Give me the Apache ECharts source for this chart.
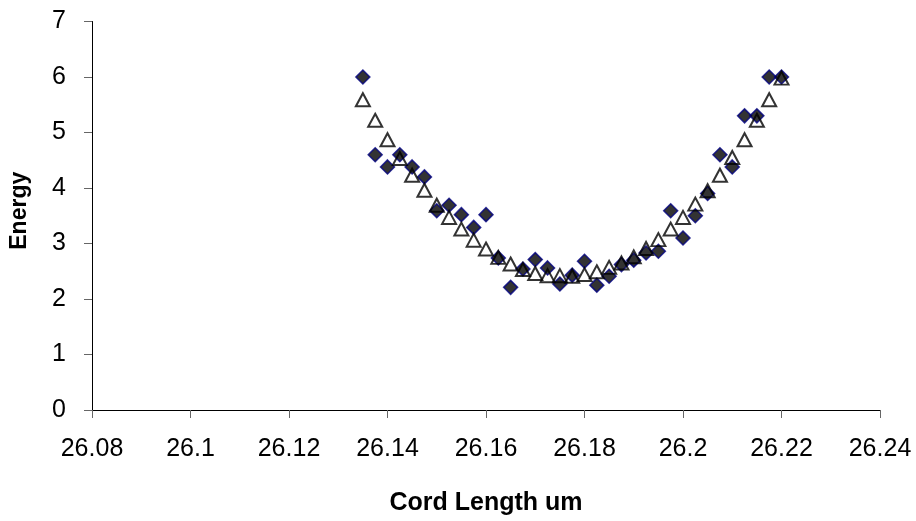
<!DOCTYPE html>
<html>
<head>
<meta charset="utf-8">
<script src="https://cdn.jsdelivr.net/npm/echarts@6/dist/echarts.min.js"></script>
<style>
  html, body { margin: 0; padding: 0; background: #fff; }
  #chart { width: 916px; height: 521px; }
</style>
</head>
<body>
<div id="chart"></div>
<script>
// Cord length positions (um)
const cordLength = [
  26.135, 26.1375, 26.14, 26.1425, 26.145, 26.1475, 26.15, 26.1525, 26.155, 26.1575,
  26.16, 26.1625, 26.165, 26.1675, 26.17, 26.1725, 26.175, 26.1775, 26.18, 26.1825,
  26.185, 26.1875, 26.19, 26.1925, 26.195, 26.1975, 26.2, 26.2025, 26.205, 26.2075,
  26.21, 26.2125, 26.215, 26.2175, 26.22
];

// Measured energy (filled diamonds)
const energyMeasured = [
  6.0, 4.6, 4.38, 4.6, 4.38, 4.2, 3.59, 3.69, 3.52, 3.29,
  3.52, 2.74, 2.21, 2.54, 2.71, 2.56, 2.27, 2.43, 2.68, 2.25,
  2.41, 2.62, 2.70, 2.83, 2.86, 3.59, 3.10, 3.50, 3.90, 4.60,
  4.38, 5.30, 5.30, 6.0, 6.0
];

// Fitted energy (open triangles)
const energyFit = [
  5.59, 5.22, 4.87, 4.53, 4.23, 3.96, 3.69, 3.47, 3.26, 3.06,
  2.90, 2.75, 2.63, 2.53, 2.46, 2.42, 2.42, 2.41, 2.44, 2.49,
  2.57, 2.65, 2.76, 2.91, 3.07, 3.26, 3.47, 3.71, 3.95, 4.23,
  4.55, 4.87, 5.22, 5.59, 5.98
];

const pairs = (ys) => cordLength.map((x, i) => [x, ys[i]]);

const font = '"Liberation Sans", Arial, sans-serif';

const chart = echarts.init(document.getElementById('chart'), null, { renderer: 'canvas' });
chart.setOption({
  animation: false,
  backgroundColor: '#ffffff',
  grid: { left: 92, right: 36, top: 21.5, bottom: 109.5, containLabel: false },
  xAxis: {
    type: 'value',
    min: 26.08,
    max: 26.24,
    interval: 0.02,
    name: 'Cord Length um',
    nameLocation: 'middle',
    nameGap: 81,
    nameTextStyle: { fontFamily: font, fontSize: 25, fontWeight: 'bold', color: '#000' },
    axisLine: { show: true, onZero: false, lineStyle: { color: '#000', width: 1 } },
    axisTick: { show: true, inside: false, length: 8, lineStyle: { color: '#666' } },
    axisLabel: {
      margin: 27,
      fontFamily: font, fontSize: 25, color: '#000',
      formatter: (v) => String(parseFloat(v.toFixed(4)))
    },
    splitLine: { show: false }
  },
  yAxis: {
    type: 'value',
    min: 0,
    max: 7,
    interval: 1,
    name: 'Energy',
    nameLocation: 'middle',
    nameGap: 61,
    nameTextStyle: {
      fontFamily: font, fontSize: 23, fontWeight: 'bold', color: '#000',
      padding: [0, 0, 0, 10]
    },
    axisLine: { show: true, lineStyle: { color: '#000', width: 1 } },
    axisTick: { show: true, inside: false, length: 8, lineStyle: { color: '#666' } },
    axisLabel: { margin: 26, fontFamily: font, fontSize: 25, color: '#000' },
    splitLine: { show: false }
  },
  series: [
    {
      name: 'Measured',
      type: 'scatter',
      data: pairs(energyMeasured),
      symbol: 'diamond',
      symbolSize: [14, 14],
      itemStyle: { color: '#000000', borderColor: '#000080', borderWidth: 1.5 },
      z: 2
    },
    {
      name: 'Fit',
      type: 'scatter',
      data: pairs(energyFit),
      symbol: 'triangle',
      symbolSize: [14, 13],
      itemStyle: { color: 'rgba(0,0,0,0)', borderColor: '#000000', borderWidth: 2 },
      z: 3
    }
  ]
});
</script>
</body>
</html>
